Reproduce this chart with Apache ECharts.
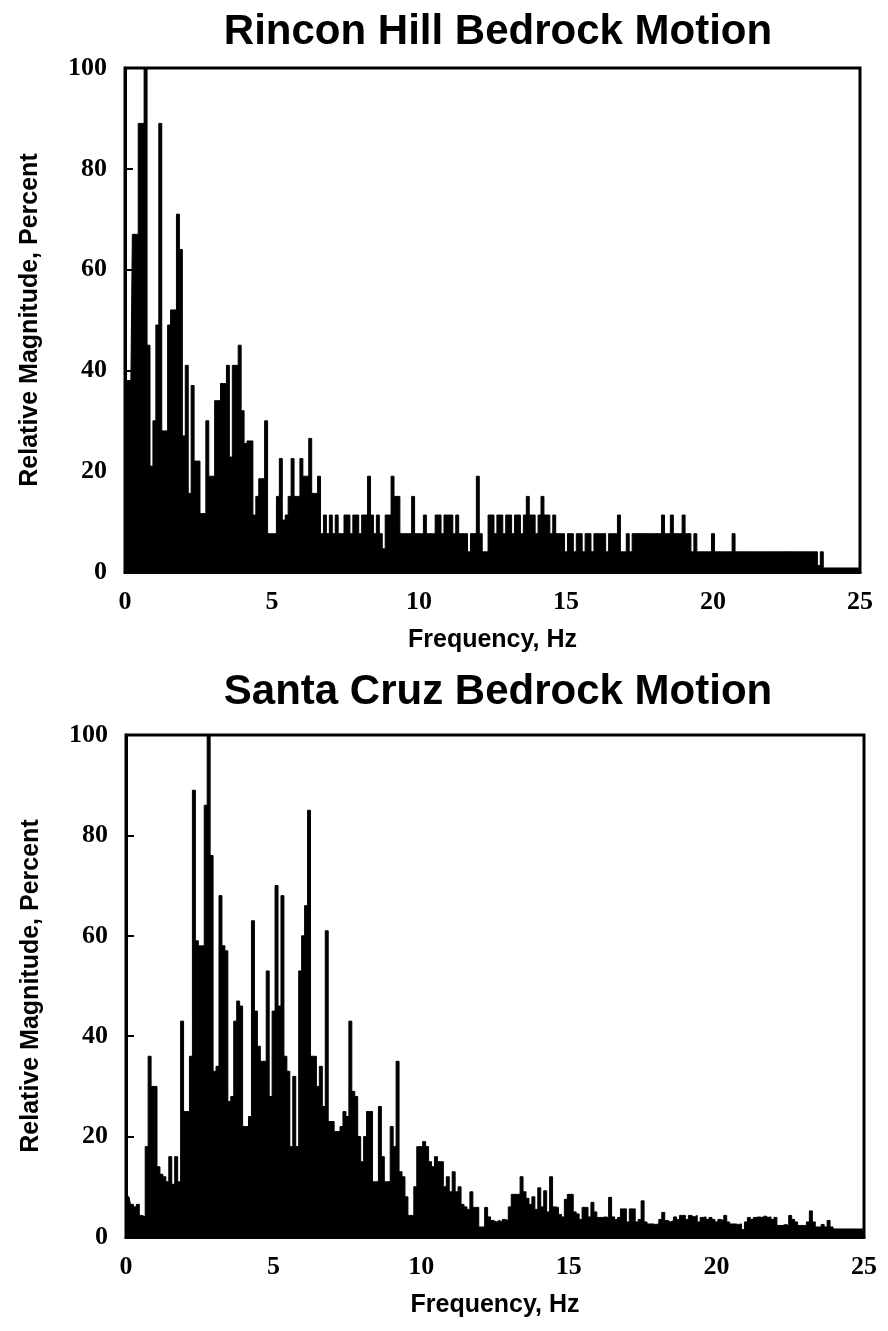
<!DOCTYPE html>
<html>
<head>
<meta charset="utf-8">
<script src="https://cdn.jsdelivr.net/npm/echarts@6/dist/echarts.min.js"></script>
<style>
  html, body { margin: 0; padding: 0; background: #fff; }
  #main { width: 888px; height: 1331px; }
</style>
</head>
<body>
<div id="main"></div>
<script>
var STEP = 0.1;

var rinconMagnitude = [
  38, 38, 38, 67, 67, 89, 89, 100, 45, 21,
  30, 49, 89, 28, 28, 49, 52, 52, 71, 64,
  27, 41, 15.6, 37, 22, 22, 11.6, 11.6, 30, 19,
  19, 34, 34, 37.4, 37.4, 41, 22.8, 41, 41, 45,
  32, 25.5, 26, 26, 11.3, 15, 18.5, 18.5, 30, 7.6,
  7.6, 7.6, 15, 22.5, 10.3, 11.3, 15, 22.5, 15, 15,
  22.5, 19, 19, 26.5, 15.6, 15.6, 19, 7.6, 11.3, 7.6,
  11.3, 7.6, 11.3, 7.6, 7.6, 11.3, 11.3, 7.6, 11.3, 11.3,
  7.6, 11.3, 11.3, 19, 11.3, 7.6, 11.3, 7.6, 4.6, 11.3,
  11.3, 19, 15, 15, 7.6, 7.6, 7.6, 7.6, 15, 7.6,
  7.6, 7.6, 11.3, 7.6, 7.6, 7.6, 11.3, 11.3, 7.6, 11.3,
  11.3, 11.3, 7.6, 11.3, 7.6, 7.6, 7.6, 4, 7.6, 7.6,
  19, 7.6, 4, 4, 11.3, 11.3, 7.6, 11.3, 11.3, 7.6,
  11.3, 11.3, 7.6, 11.3, 11.3, 7.6, 11.3, 15, 11.3, 11.3,
  7.6, 11.3, 15, 11.3, 11.3, 7.6, 11.3, 7.6, 7.6, 7.6,
  4, 7.6, 7.6, 4, 7.6, 7.6, 4, 7.6, 7.6, 4,
  7.6, 7.6, 7.6, 7.6, 4, 7.6, 7.6, 7.6, 11.3, 4,
  4, 7.6, 4, 7.6, 7.6, 7.6, 7.6, 7.6, 7.6, 7.6,
  7.6, 7.6, 7.6, 11.3, 7.6, 7.6, 11.3, 7.6, 7.6, 7.6,
  11.3, 7.6, 7.6, 4, 7.6, 4, 4, 4, 4, 4,
  7.6, 4, 4, 4, 4, 4, 4, 7.6, 4, 4,
  4, 4, 4, 4, 4, 4, 4, 4, 4, 4,
  4, 4, 4, 4, 4, 4, 4, 4, 4, 4,
  4, 4, 4, 4, 4, 4, 1.3, 4, 0.8, 0.8,
  0.8, 0.8, 0.8, 0.8, 0.8, 0.8, 0.8, 0.8, 0.8, 0.8,
  0.8
];

var santaCruzMagnitude = [
  8, 8, 6.5, 6, 6.5, 4.3, 4, 18, 36, 30,
  30, 14, 12.5, 12, 11, 16, 10.5, 16, 11, 43,
  25, 25, 36, 89, 59, 58, 58, 86, 100, 76,
  33, 34, 68, 58, 57, 27, 28, 43, 47, 46,
  22, 22, 24, 63, 45, 38, 35, 35, 53, 28,
  45, 70, 46, 68, 36, 33, 18, 32, 18, 53,
  60, 66, 85, 36, 36, 30, 34, 26, 61, 23,
  23, 21, 21, 22, 25, 24, 43, 29, 28, 20,
  15, 20, 25, 25, 11, 11, 26, 16, 11, 11,
  22, 18, 35, 13, 12, 8, 4.3, 4.3, 10, 18,
  18, 19, 18, 15, 14, 16, 15, 15, 10, 12,
  9, 13, 9, 10, 6.5, 6, 5.5, 9, 5.9, 5.9,
  2, 2, 5.9, 4, 3.3, 3, 3.3, 3, 3.5, 3.3,
  6, 8.5, 8.5, 8.5, 12, 9, 7.7, 6.5, 8, 5.5,
  9.8, 6, 9.2, 5, 12, 6, 5.9, 4.5, 4, 7.5,
  8.5, 8.5, 5, 4.6, 3.5, 5.9, 5.9, 4, 6.9, 5,
  3.9, 3.9, 4, 3.9, 7.9, 4, 3.5, 3.9, 5.6, 5.6,
  3, 5.6, 5.6, 3, 3.5, 7.2, 3, 2.6, 2.6, 2.5,
  2.6, 3.5, 4.9, 3.3, 3, 3.3, 4, 3.5, 4.3, 4.3,
  3.5, 4.3, 4, 4.3, 3, 3.9, 4, 3.5, 3.9, 3.5,
  3, 3.5, 3.3, 4.3, 3, 2.6, 2.6, 2.5, 2.6, 1.5,
  3, 3.9, 3.5, 3.9, 4, 3.9, 4.2, 3.9, 4, 3.5,
  3.9, 2.3, 2.3, 2.5, 2.3, 4.3, 3.5, 3, 2.3, 2.3,
  2.3, 3, 5.2, 3, 2, 2, 2.5, 2, 3.3, 2,
  1.6, 1.6, 1.6, 1.6, 1.6, 1.6, 1.6, 1.6, 1.6, 1.6,
  1.5
];

var titles = ["Rincon Hill Bedrock Motion", "Santa Cruz Bedrock Motion"];
var xTicks = [0, 5, 10, 15, 20, 25];
var yTicks = [0, 20, 40, 60, 80, 100];

function toPairs(values) {
  return values.map(function (v, i) {
    return [+(i * STEP).toFixed(1), v];
  });
}

var serif = "Liberation Serif";
var sans = "Liberation Sans";

function xAxisFor(gridIndex) {
  return {
    gridIndex: gridIndex,
    type: "value",
    min: xTicks[0],
    max: xTicks[xTicks.length - 1],
    interval: 5,
    name: "Frequency, Hz",
    nameLocation: "middle",
    nameGap: 56,
    nameTextStyle: { fontFamily: sans, fontSize: 25, fontWeight: "bold", color: "#000" },
    axisLine: { show: true, onZero: false, lineStyle: { color: "#000", width: 3 } },
    axisTick: { show: false },
    axisLabel: { fontFamily: serif, fontSize: 26, fontWeight: "bold", color: "#000", margin: 17 },
    splitLine: { show: false },
  };
}

function yAxisFor(gridIndex) {
  return {
    gridIndex: gridIndex,
    type: "value",
    min: yTicks[0],
    max: yTicks[yTicks.length - 1],
    interval: 20,
    name: "Relative Magnitude, Percent",
    nameLocation: "middle",
    nameRotate: 90,
    nameGap: 82,
    nameTextStyle: { fontFamily: sans, fontSize: 25, fontWeight: "bold", color: "#000" },
    axisLine: { show: true, lineStyle: { color: "#000", width: 3 } },
    axisTick: { show: true, inside: true, length: 8, lineStyle: { color: "#000", width: 2 } },
    axisLabel: { fontFamily: serif, fontSize: 26, fontWeight: "bold", color: "#000", margin: 18 },
    splitLine: { show: false },
  };
}

function spectrum(values, idx) {
  return {
    type: "line",
    xAxisIndex: idx,
    yAxisIndex: idx,
    data: toPairs(values),
    step: "middle",
    showSymbol: false,
    symbol: "none",
    lineStyle: { color: "#000", width: 1 },
    areaStyle: { color: "#000", opacity: 1 },
    silent: true,
  };
}

var chart = echarts.init(document.getElementById("main"));

var option = {
  backgroundColor: "#fff",
  animation: false,
  title: [
    {
      text: titles[0],
      left: 493,
      top: 6,
      textAlign: "center",
      textStyle: { fontFamily: sans, fontSize: 42, fontWeight: "bold", color: "#000" },
    },
    {
      text: titles[1],
      left: 493,
      top: 666,
      textAlign: "center",
      textStyle: { fontFamily: sans, fontSize: 42, fontWeight: "bold", color: "#000" },
    },
  ],
  grid: [
    { left: 125, top: 68, width: 735, height: 504, show: true, borderColor: "#000", borderWidth: 3, backgroundColor: "#fff" },
    { left: 126, top: 735, width: 738, height: 502, show: true, borderColor: "#000", borderWidth: 3, backgroundColor: "#fff" },
  ],
  xAxis: [xAxisFor(0), xAxisFor(1)],
  yAxis: [yAxisFor(0), yAxisFor(1)],
  series: [
    spectrum(rinconMagnitude, 0),
    spectrum(santaCruzMagnitude, 1),
  ],
};

chart.setOption(option);
</script>
</body>
</html>
